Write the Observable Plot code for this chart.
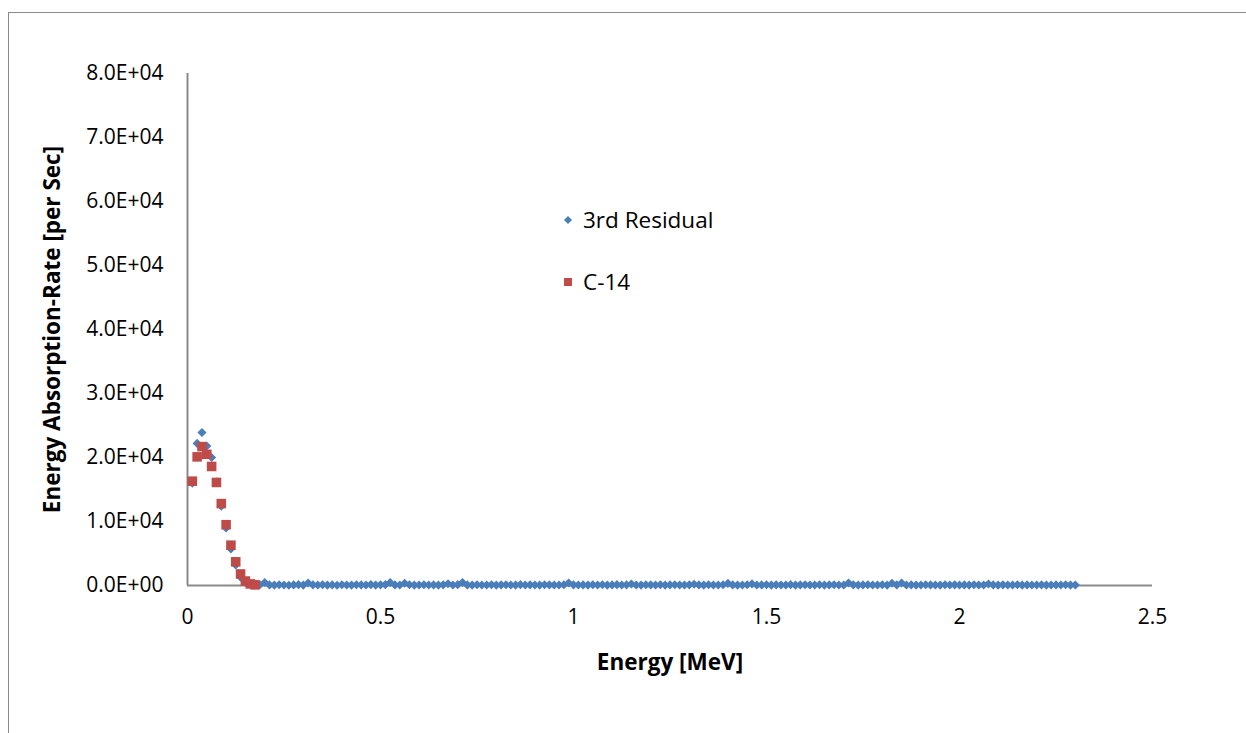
<!DOCTYPE html>
<html>
<head>
<meta charset="utf-8">
<script src="https://cdn.jsdelivr.net/npm/d3@7"></script>
<script src="https://cdn.jsdelivr.net/npm/@observablehq/plot@0.6"></script>
<style>
  html, body { margin: 0; padding: 0; background: #fff; overflow: hidden; }
  #wrap { position: relative; width: 1246px; height: 733px; font-family: "Open Sans", sans-serif; }
  #frame { position: absolute; left: 8px; top: 12px; width: 1300px; height: 800px; border: 1.5px solid #8a8a8a; box-sizing: border-box; }
  #chart { position: absolute; left: 0; top: 0; }
  .leg { position: absolute; left: 562px; font-size: 22.5px; line-height: 30px; color: #000; display: flex; align-items: center; }
  .leg svg { margin-right: 9px; }
</style>
</head>
<body>
<div id="wrap">
  <div id="frame"></div>
  <div id="chart"></div>
  <div class="leg" style="top:205px"><svg width="12" height="12"><path d="M6,2 L10,6 L6,10 L2,6 Z" fill="#4A7EBB"/></svg>3rd Residual</div>
  <div class="leg" style="top:267px"><svg width="12" height="12"><rect x="2" y="2" width="8" height="8" fill="#BE4B48"/></svg>C-14</div>
</div>
<script>
// Energy grid [MeV]
const energy = [
  0.0125,0.025,0.0375,0.05,0.0625,0.075,0.0875,0.1,
  0.1125,0.125,0.1375,0.15,0.1625,0.175,0.1875,0.2,
  0.2125,0.225,0.2375,0.25,0.2625,0.275,0.2875,0.3,
  0.3125,0.325,0.3375,0.35,0.3625,0.375,0.3875,0.4,
  0.4125,0.425,0.4375,0.45,0.4625,0.475,0.4875,0.5,
  0.5125,0.525,0.5375,0.55,0.5625,0.575,0.5875,0.6,
  0.6125,0.625,0.6375,0.65,0.6625,0.675,0.6875,0.7,
  0.7125,0.725,0.7375,0.75,0.7625,0.775,0.7875,0.8,
  0.8125,0.825,0.8375,0.85,0.8625,0.875,0.8875,0.9,
  0.9125,0.925,0.9375,0.95,0.9625,0.975,0.9875,1.0,
  1.0125,1.025,1.0375,1.05,1.0625,1.075,1.0875,1.1,
  1.1125,1.125,1.1375,1.15,1.1625,1.175,1.1875,1.2,
  1.2125,1.225,1.2375,1.25,1.2625,1.275,1.2875,1.3,
  1.3125,1.325,1.3375,1.35,1.3625,1.375,1.3875,1.4,
  1.4125,1.425,1.4375,1.45,1.4625,1.475,1.4875,1.5,
  1.5125,1.525,1.5375,1.55,1.5625,1.575,1.5875,1.6,
  1.6125,1.625,1.6375,1.65,1.6625,1.675,1.6875,1.7,
  1.7125,1.725,1.7375,1.75,1.7625,1.775,1.7875,1.8,
  1.8125,1.825,1.8375,1.85,1.8625,1.875,1.8875,1.9,
  1.9125,1.925,1.9375,1.95,1.9625,1.975,1.9875,2.0,
  2.0125,2.025,2.0375,2.05,2.0625,2.075,2.0875,2.1,
  2.1125,2.125,2.1375,2.15,2.1625,2.175,2.1875,2.2,
  2.2125,2.225,2.2375,2.25,2.2625,2.275,2.2875,2.3
];

// 3rd Residual [per Sec]
const residual = [
  16000,22200,23900,21800,20000,16200,12400,9000,
  5700,3200,1300,500,200,100,120,480,
  90,60,110,70,40,90,130,60,
  380,100,70,120,60,90,50,110,
  80,60,120,90,70,140,60,100,
  130,480,90,70,340,110,60,80,
  120,70,90,60,100,280,80,130,
  470,90,60,110,80,70,120,60,
  90,110,70,60,130,80,100,70,
  60,110,90,70,80,120,380,100,
  70,90,60,120,80,110,60,90,
  130,70,100,240,80,60,110,90,
  70,120,60,90,110,80,70,100,
  200,90,60,120,80,70,110,330,
  90,60,80,110,250,70,90,120,
  60,100,80,70,130,60,90,110,
  70,80,120,60,90,110,70,80,
  380,100,60,90,120,70,80,110,
  60,340,90,380,70,100,60,80,
  110,90,70,60,120,80,100,70,
  90,60,110,80,70,240,90,60,
  100,80,70,110,60,90,80,70,
  100,60,80,90,70,110,60,80
];

// C-14 [per Sec]
const c14 = [
  16300,20100,21700,20500,18600,16100,12800,9500,
  6300,3700,1800,700,250,100
];

const yTicks = [0,10000,20000,30000,40000,50000,60000,70000,80000];
const yTickLabels = ["0.0E+00","1.0E+04","2.0E+04","3.0E+04","4.0E+04","5.0E+04","6.0E+04","7.0E+04","8.0E+04"];
const xTicks = [0,0.5,1,1.5,2,2.5];
const xTickLabels = ["0","0.5","1","1.5","2","2.5"];

const resData = residual.map((v, i) => ({e: energy[i], v}));
const c14Data = c14.map((v, i) => ({e: energy[i], v}));

const blue = "#4A7EBB", red = "#BE4B48", axisGray = "#8a8a8a";

const chart = Plot.plot({
  width: 1246,
  height: 733,
  marginLeft: 187,
  marginRight: 94,
  marginTop: 73,
  marginBottom: 148,
  style: {fontFamily: "'Open Sans', sans-serif", fontSize: "21px", color: "#000", background: "transparent", overflow: "visible"},
  x: {domain: [0, 2.5]},
  y: {domain: [0, 80000]},
  marks: [
    Plot.axisY({ticks: yTicks, tickFormat: d => yTickLabels[yTicks.indexOf(d)], tickSize: 0, tickPadding: 24, label: null, fontSize: 21}),
    Plot.axisX({ticks: xTicks, tickFormat: d => xTickLabels[xTicks.indexOf(d)], tickSize: 0, tickPadding: 24, label: null, fontSize: 21}),
    Plot.ruleX([0], {stroke: axisGray, strokeWidth: 2}),
    Plot.ruleY([0], {stroke: axisGray, strokeWidth: 2}),
    Plot.dot(resData, {x: "e", y: "v", symbol: "diamond2", r: 4.1, fill: blue, stroke: "none"}),
    Plot.dot(c14Data, {x: "e", y: "v", symbol: "square", r: 5.4, fill: red, stroke: "none"}),
    Plot.text(["Energy [MeV]"], {text: d => d, frameAnchor: "bottom", dy: 77, fontWeight: "bold", fontSize: 22.5, textAnchor: "middle", lineAnchor: "middle"}),
    Plot.text(["Energy Absorption-Rate [per Sec]"], {text: d => d, frameAnchor: "left", dx: -135, rotate: -90, fontWeight: "bold", fontSize: 22.5, textAnchor: "middle", lineAnchor: "middle"})
  ]
});
document.getElementById("chart").appendChild(chart);
</script>
</body>
</html>
